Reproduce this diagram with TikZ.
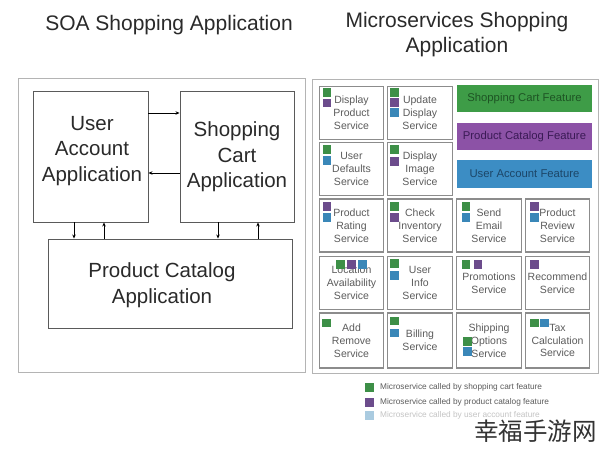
\documentclass[tikz,border=0pt]{standalone}
\usepackage{fontspec}
\setmainfont{Liberation Sans}
\newfontfamily\cjkfont{Noto Sans CJK SC}
\usetikzlibrary{arrows.meta}
\definecolor{titlecol}{HTML}{2A2A2A}
\definecolor{framecol}{HTML}{B4B4B4}
\definecolor{appcol}{HTML}{5A5A5A}
\definecolor{boxcol}{HTML}{8C8C8C}
\definecolor{mstext}{HTML}{5C5C5C}
\definecolor{sqgreen}{HTML}{3D8F47}
\definecolor{sqpurple}{HTML}{6C4C8C}
\definecolor{sqblue}{HTML}{3A87B8}
\definecolor{barGreen}{HTML}{3E9C47}
\definecolor{barPurple}{HTML}{8C52A6}
\definecolor{barBlue}{HTML}{3C8DC4}
\definecolor{barGreenTx}{HTML}{1E5424}
\definecolor{barPurpleTx}{HTML}{3A1A55}
\definecolor{barBlueTx}{HTML}{1C4668}
\definecolor{legLight}{HTML}{AACBE0}
\definecolor{legLightTx}{HTML}{C4C4C4}
\newcommand{\mk}[3]{\fill[#1] (#2,#3) rectangle ++(8.5,8.5);}
\begin{document}
\begin{tikzpicture}[x=1pt,y=-1pt,
  title/.style={text=titlecol,font=\fontsize{21}{25}\selectfont,align=center,inner sep=0},
  frame/.style={draw=framecol,line width=1pt,inner sep=0},
  appbox/.style={draw=appcol,line width=0.9pt,inner sep=0},
  apptext/.style={text=titlecol,font=\fontsize{20.5}{25.5}\selectfont,align=center,inner sep=0},
  arr/.style={draw=black,line width=0.8pt,-{Stealth[length=4pt,width=3.5pt]}},
  msbox/.style={draw=boxcol,line width=1.1pt,minimum width=64.5,minimum height=53,inner sep=0,
    align=center,text=mstext,font=\fontsize{10.5}{12.8}\selectfont},
  bar/.style={minimum width=135,minimum height=27,inner sep=0,font=\fontsize{11.3}{13}\selectfont},
  legtext/.style={anchor=west,inner sep=0,font=\fontsize{8.3}{10}\selectfont,text=mstext}]
\useasboundingbox (0,0) rectangle (600,450);
\fill[white] (0,0) rectangle (600,450);

% titles
\node[title] (t1) at (169,25) {SOA Shopping Application};
\node[title] (t2) at (457,35) {Microservices Shopping\\Application};

% ---------- SOA panel ----------
\node[frame,minimum width=287,minimum height=294] (lf) at (161.5,225) {};
\node[appbox,minimum width=115,minimum height=131] (ua) at (90.5,156.5) {};
\node[apptext] (uat) at (92,151) {User\\Account\\Application};
\node[appbox,minimum width=114,minimum height=131] (sc) at (237,156.5) {};
\node[apptext] (sct) at (237,157) {Shopping\\Cart\\Application};
\node[appbox,minimum width=244,minimum height=89] (pc) at (170,283.5) {};
\node[apptext] (pct) at (162,285) {Product Catalog\\Application};

\draw[arr] ([yshift=43.5pt]ua.east) -- ([yshift=43.5pt]ua.east -| sc.west);
\draw[arr] ([yshift=-16.5pt]sc.west) -- ([yshift=-16.5pt]sc.west -| ua.east);
\draw[arr] ([xshift=-16.5pt]ua.south) -- ([xshift=-16.5pt]ua.south |- pc.north);
\draw[arr] ([xshift=13.5pt]ua.south |- pc.north) -- ([xshift=13.5pt]ua.south);
\draw[arr] ([xshift=-19pt]sc.south) -- ([xshift=-19pt]sc.south |- pc.north);
\draw[arr] ([xshift=21pt]sc.south |- pc.north) -- ([xshift=21pt]sc.south);

% ---------- Microservices panel ----------
\node[frame,minimum width=286,minimum height=294] (rf) at (455,226) {};

% feature bars
\node[bar,fill=barGreen,text=barGreenTx] (fsc) at (524.5,98.5) {Shopping Cart Feature};
\node[bar,fill=barPurple,text=barPurpleTx] (fpc) at (524.5,136.5) {Product Catalog Feature};
\node[bar,fill=barBlue,text=barBlueTx,minimum height=28] (fua) at (524.5,174) {User Account Feature};

% services
\node[msbox] (s11) at (351.5,113) {Display\\Product\\Service};
\node[msbox] (s12) at (420,113) {Update\\Display\\Service};
\node[msbox] (s21) at (351.5,169) {User\\Defaults\\Service};
\node[msbox] (s22) at (420,169) {Display\\Image\\Service};
\node[msbox] (s31) at (351.5,225.5) {Product\\Rating\\Service};
\node[msbox] (s32) at (420,225.5) {Check\\Inventory\\Service};
\node[msbox] (s33) at (489,225.5) {Send\\Email\\Service};
\node[msbox] (s34) at (557.5,225.5) {Product\\Review\\Service};
\node[msbox] (s41) at (351.5,283) {Location\\Availability\\Service};
\node[msbox] (s42) at (420,283) {User\\Info\\Service};
\node[msbox] (s43) at (489,283) {Promotions\\Service};
\node[msbox] (s44) at (557.5,283) {Recommend\\Service};
\node[msbox,minimum height=55] (s51) at (351.5,340.5) {Add\\Remove\\Service};
\node[msbox,minimum height=55] (s52) at (420,340.5) {Billing\\Service};
\node[msbox,minimum height=55] (s53) at (489,340.5) {Shipping\\Options\\Service};
\node[msbox,minimum height=55] (s54) at (557.5,340.5) {Tax\\Calculation\\Service};

% markers
\mk{sqgreen}{322.5}{88}\mk{sqpurple}{322.5}{98.5}
\mk{sqgreen}{390}{88}\mk{sqpurple}{390}{98}\mk{sqblue}{390}{108}
\mk{sqgreen}{322.5}{145}\mk{sqblue}{322.5}{156}
\mk{sqgreen}{390}{145}\mk{sqpurple}{390}{157}
\mk{sqpurple}{322.5}{202}\mk{sqblue}{322.5}{213}
\mk{sqgreen}{390}{202}\mk{sqpurple}{390}{213}
\mk{sqgreen}{461.5}{202}\mk{sqblue}{461.5}{213}
\mk{sqpurple}{530}{202}\mk{sqblue}{530}{213}
\mk{sqgreen}{336}{260}\mk{sqpurple}{347}{260}\mk{sqblue}{358}{260}
\mk{sqgreen}{390}{259}\mk{sqblue}{390}{271}
\mk{sqgreen}{461.5}{260}\mk{sqpurple}{473.5}{260}
\mk{sqpurple}{530}{260}
\mk{sqgreen}{322}{318.5}
\mk{sqgreen}{390}{316.5}\mk{sqblue}{390}{328.5}
\mk{sqgreen}{463}{337}\mk{sqblue}{463}{347}
\mk{sqgreen}{530}{318.5}\mk{sqblue}{540}{318.5}

% legend
\mk{sqgreen}{365}{383}
\mk{sqpurple}{365}{398}
\mk{legLight}{365}{411}
\node[legtext] (l1) at (380,387.5) {Microservice called by shopping cart feature};
\node[legtext] (l2) at (380,402.5) {Microservice called by product catalog feature};
\node[legtext,text=legLightTx] (l3) at (380,415.5) {Microservice called by user account feature};

% watermark
\node[anchor=west,inner sep=0,text=black!80,font=\cjkfont\fontsize{24.5}{25}\selectfont] (wm) at (474,431) {幸福手游网};
\end{tikzpicture}
\end{document}
